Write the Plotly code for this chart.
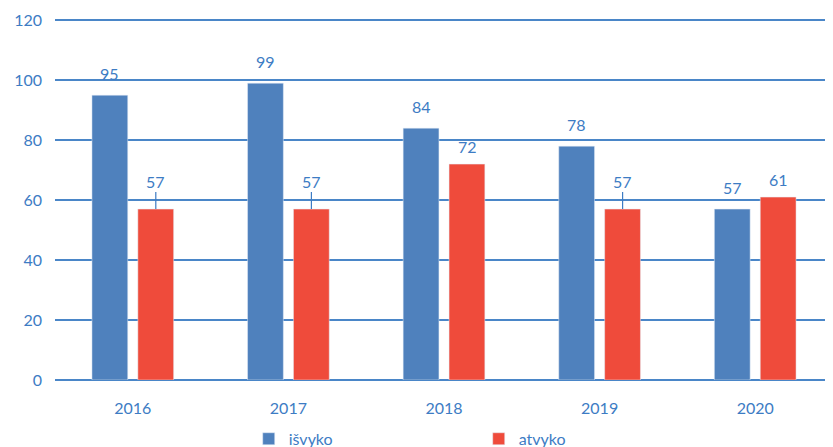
import plotly.graph_objects as go

years = ['2016', '2017', '2018', '2019', '2020']
isvyko = [95, 99, 84, 78, 57]
atvyko = [57, 57, 72, 57, 61]
# labels drawn with a short leader line in the original
atvyko_leader = [True, True, False, True, False]

blue = '#4f81bd'
red = '#ef4b3b'
txt = '#3d7cc4'
font = 'Lato'

fig = go.Figure(data=[
    go.Bar(name='išvyko', x=years, y=isvyko, marker_color=blue),
    go.Bar(name='atvyko', x=years, y=atvyko, marker_color=red),
])

# on a category axis annotation x is the category index
ann = []
for i, v in enumerate(isvyko):
    ann.append(dict(x=i, y=v, text=str(v), xshift=-23, yshift=10,
                    yanchor='bottom', showarrow=False))
for i, (v, lead) in enumerate(zip(atvyko, atvyko_leader)):
    if lead:
        ann.append(dict(x=i, y=v, text=str(v), xshift=23, showarrow=True,
                        arrowhead=0, arrowwidth=1.2, arrowcolor=txt,
                        ax=0, ay=-28, standoff=0))
    else:
        ann.append(dict(x=i, y=v, text=str(v), xshift=23, yshift=6,
                        yanchor='bottom', showarrow=False))
for a in ann:
    a['font'] = dict(family=font, size=16, color=txt)

# page body keeps its 8px default margin, so the figure is a bit smaller
fig.update_layout(
    barmode='group',
    bargap=0.41,
    bargroupgap=0.22,
    width=825, height=439,
    margin=dict(l=47, r=0, t=11, b=67, autoexpand=False),
    plot_bgcolor='white',
    paper_bgcolor='white',
    font=dict(family=font, size=16, color=txt),
    annotations=ann,
    showlegend=True,
    legend=dict(orientation='h', x=0.249, xanchor='left', y=-0.163,
                yanchor='middle', entrywidth=185, entrywidthmode='pixels',
                font=dict(family=font, size=16, color=txt)),
)
fig.update_yaxes(range=[0, 120.4], dtick=20, gridcolor='#4a86c8', gridwidth=2,
                 zeroline=True, zerolinecolor='#4a86c8', zerolinewidth=2,
                 showline=False, automargin=False,
                 tickfont=dict(size=16, color=txt), ticklabelstandoff=12)
fig.update_xaxes(type='category', range=[-0.5, 4.5], showgrid=False,
                 showline=False, automargin=False,
                 tickfont=dict(size=16, color=txt), ticklabelstandoff=17)

fig.write_html("out.html")
